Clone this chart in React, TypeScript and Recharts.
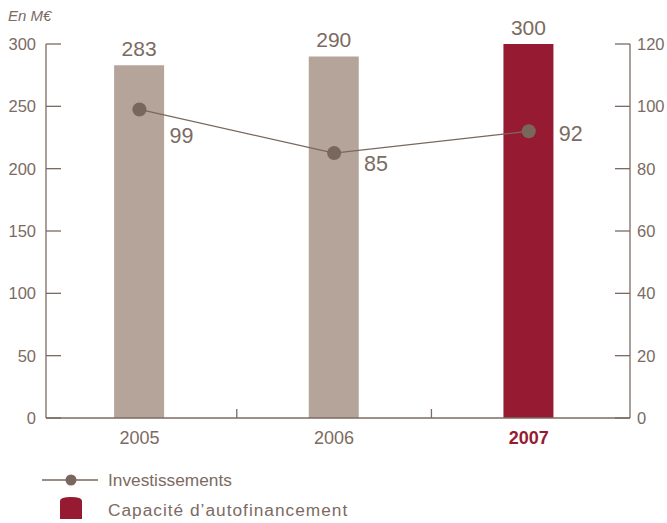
import {
  Bar,
  Cell,
  ComposedChart,
  LabelList,
  Line,
  XAxis,
  YAxis,
} from "recharts";

const years = ["2005", "2006", "2007"];
const autofinancement = [283, 290, 300];
const investissements = [99, 85, 92];
const leftTicks = [0, 50, 100, 150, 200, 250, 300];
const rightTicks = [0, 20, 40, 60, 80, 100, 120];

const TEXT = "#7b6b62";
const TAUPE = "#b4a49a";
const CRIMSON = "#961a31";
const LINE = "#7a675c";
const FONT = "'Liberation Sans', Arial, sans-serif";

// per-point label nudges for the line values (right of the dot, a bit below)
const LINE_LABEL_DY = [26, 10, 2];

const data = years.map((year, i) => ({
  year,
  pos: i,
  caf: autofinancement[i],
  inv: investissements[i],
}));

// integer ticks carry the year, half ticks are the small separators
const xTicks = [0, 0.5, 1, 1.5, 2];

function YearTick({ x, y, payload }: any) {
  const v = payload.value;
  if (!Number.isInteger(v)) {
    return <line x1={x} y1={y} x2={x} y2={y - 9} stroke={TEXT} strokeWidth={1.3} />;
  }
  const label = years[v];
  const last = label === "2007";
  return (
    <text
      x={x}
      y={y + 13}
      dy="0.71em"
      textAnchor="middle"
      fontSize={18}
      fontWeight={last ? "bold" : "normal"}
      fill={last ? CRIMSON : TEXT}
      fontFamily={FONT}
    >
      {label}
    </text>
  );
}

function LineValue({ x, y, value, index }: any) {
  return (
    <text
      x={x + 30}
      y={y + LINE_LABEL_DY[index]}
      dy="0.355em"
      fontSize={21.5}
      fill={TEXT}
      fontFamily={FONT}
    >
      {value}
    </text>
  );
}

export default function App() {
  return (
    <div
      style={{
        position: "absolute",
        left: 0,
        top: 0,
        width: 667,
        height: 523,
        background: "#fff",
        fontFamily: FONT,
      }}
    >
      <div
        style={{
          position: "absolute",
          left: 8,
          top: 7,
          fontSize: 15,
          fontStyle: "italic",
          color: TEXT,
        }}
      >
        En M€
      </div>
      <ComposedChart
        width={667}
        height={523}
        data={data}
        margin={{ top: 44, right: 0, left: 0, bottom: 75 }}
      >
        <XAxis
          xAxisId="main"
          type="number"
          dataKey="pos"
          domain={[-0.48, 2.52]}
          ticks={xTicks}
          interval={0}
          height={30}
          axisLine={{ stroke: TEXT, strokeWidth: 1.3 }}
          tickLine={false}
          tickSize={0}
          tickMargin={0}
          tick={<YearTick />}
        />
        <YAxis
          yAxisId="left"
          domain={[0, 300]}
          ticks={leftTicks}
          width={46}
          axisLine={{ stroke: TEXT, strokeWidth: 1.3 }}
          tickLine={{ stroke: TEXT, strokeWidth: 1.3 }}
          tickSize={-15}
          tickMargin={25}
          tick={{ fontSize: 16.5, fill: TEXT, fontFamily: FONT }}
        />
        <YAxis
          yAxisId="right"
          orientation="right"
          domain={[0, 120]}
          ticks={rightTicks}
          width={37}
          axisLine={{ stroke: TEXT, strokeWidth: 1.3 }}
          tickLine={{ stroke: TEXT, strokeWidth: 1.3 }}
          tickSize={-15}
          tickMargin={22}
          tick={{ fontSize: 16.5, fill: TEXT, fontFamily: FONT }}
        />
        <Bar
          xAxisId="main"
          yAxisId="left"
          dataKey="caf"
          barSize={50}
          isAnimationActive={false}
        >
          {data.map((d) => (
            <Cell key={d.year} fill={d.year === "2007" ? CRIMSON : TAUPE} />
          ))}
          <LabelList
            dataKey="caf"
            position="top"
            offset={9}
            style={{ fontSize: 21, fill: TEXT, fontFamily: FONT }}
          />
        </Bar>
        <Line
          xAxisId="main"
          yAxisId="right"
          dataKey="inv"
          stroke={LINE}
          strokeWidth={1.3}
          dot={{ r: 7, fill: LINE, stroke: "none" }}
          activeDot={false}
          isAnimationActive={false}
        >
          <LabelList dataKey="inv" content={<LineValue />} />
        </Line>
      </ComposedChart>

      {/* legend */}
      <svg
        style={{ position: "absolute", left: 0, top: 465 }}
        width={110}
        height={58}
      >
        <line x1={42} y1={15} x2={98} y2={15} stroke={LINE} strokeWidth={1.3} />
        <circle cx={71} cy={15} r={5.5} fill={LINE} />
        <path
          d="M60 36 Q60 32 71 32 Q82 32 82 36 L82 54 L60 54 Z"
          fill={CRIMSON}
        />
      </svg>
      <div
        style={{
          position: "absolute",
          left: 108,
          top: 470,
          fontSize: 17.3,
          color: TEXT,
          lineHeight: "20px",
        }}
      >
        Investissements
      </div>
      <div
        style={{
          position: "absolute",
          left: 108,
          top: 500,
          fontSize: 17.3,
          letterSpacing: 1,
          color: TEXT,
          lineHeight: "20px",
        }}
      >
        Capacité d’autofinancement
      </div>
    </div>
  );
}
